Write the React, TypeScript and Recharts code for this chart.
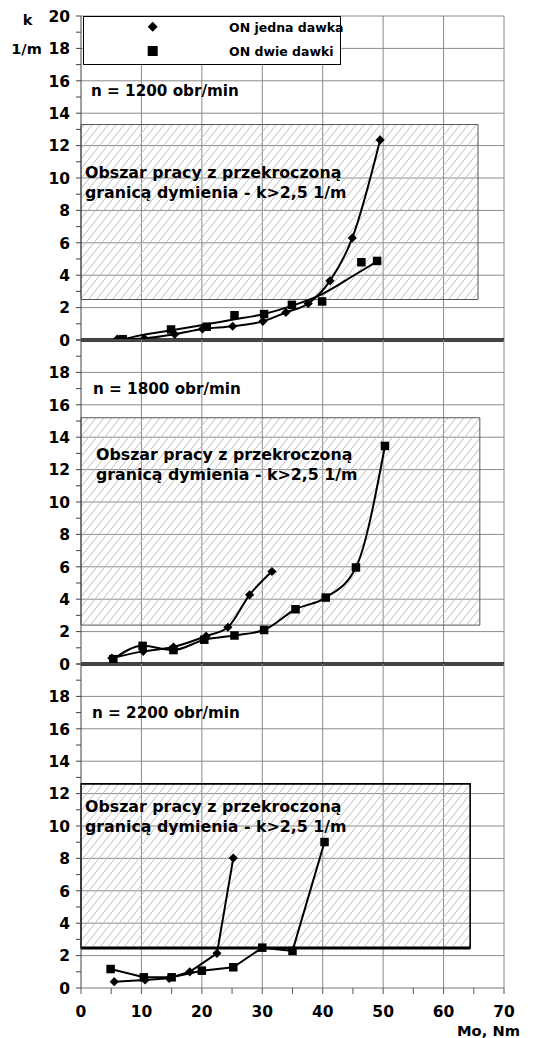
import React from "react";
import { ComposedChart, Line, XAxis, YAxis, ReferenceLine, ReferenceArea, CartesianGrid } from "recharts";

// ---------- data ----------
// n = 1200 obr/min
const p1JednaX = [6.0, 10.5, 15.5, 20.1, 25.1, 30.1, 33.9, 37.6, 41.2, 44.9, 49.5];
const p1JednaY = [0.05, 0.1, 0.35, 0.68, 0.85, 1.15, 1.7, 2.25, 3.65, 6.3, 12.35];
const p1DwieX = [6.9, 14.9, 20.8, 25.4, 30.3, 34.9, 39.9, 46.4, 49.0];
const p1DwieY = [0.05, 0.65, 0.82, 1.53, 1.6, 2.17, 2.38, 4.8, 4.88];
const p1DwieTrendX = [6.5, 10, 15, 20, 25, 30, 35, 40, 45, 49];
const p1DwieTrendY = [0.0, 0.3, 0.6, 0.92, 1.25, 1.58, 2.12, 2.85, 3.95, 4.85];
// n = 1800 obr/min
const p2JednaX = [5.1, 10.3, 15.3, 20.7, 24.3, 27.9, 31.6];
const p2JednaY = [0.37, 0.78, 1.05, 1.72, 2.27, 4.27, 5.71];
const p2DwieX = [5.35, 10.2, 15.3, 20.4, 25.4, 30.3, 35.5, 40.5, 45.5, 50.3];
const p2DwieY = [0.3, 1.12, 0.86, 1.5, 1.76, 2.1, 3.38, 4.1, 5.96, 13.46];
// n = 2200 obr/min
const p3JednaX = [5.5, 10.6, 14.6, 18.0, 22.5, 25.2];
const p3JednaY = [0.39, 0.5, 0.6, 1.0, 2.14, 8.02];
const p3DwieX = [4.9, 10.4, 15.0, 20.0, 25.2, 30.0, 35.0, 40.3];
const p3DwieY = [1.17, 0.66, 0.66, 1.07, 1.28, 2.49, 2.29, 9.01];

// hatched areas [x1, x2, y1, y2]
const area1 = [0, 65.7, 2.5, 13.3];
const area2 = [0, 66, 2.4, 15.2];
const area3 = [0, 64.4, 2.47, 12.6];

// axes
const xMin = 0;
const xMax = 70;
const yMin = 0;
const yMax = 20;
const xTicks = [0, 5, 10, 15, 20, 25, 30, 35, 40, 45, 50, 55, 60, 65, 70];
const xGrid = [10, 20, 30, 40, 50, 60, 70];
const yTicks = [0, 1, 2, 3, 4, 5, 6, 7, 8, 9, 10, 11, 12, 13, 14, 15, 16, 17, 18, 19, 20];
const yGrid = [2, 4, 6, 8, 10, 12, 14, 16, 18, 20];

const seriesNames = ["ON jedna dawka", "ON dwie dawki"];
const panelTitles = ["n = 1200 obr/min", "n = 1800 obr/min", "n = 2200 obr/min"];
const areaText = ["Obszar pracy z przekroczoną", "granicą dymienia - k>2,5 1/m"];
const yTitle = ["k", "1/m"];
const xTitle = "Mo, Nm";

const pts = (xs: number[], ys: number[]) => xs.map((x, i) => ({ x, y: ys[i] }));

const FONT = "'DejaVu Sans', Verdana, sans-serif";
const GRID = "#8a8a8a";

const diamond = (p: any) => {
  const { cx, cy, index } = p;
  if (cx == null || cy == null) return <g key={index} />;
  const r = 4.6;
  return (
    <path key={index} d={`M${cx},${cy - r}L${cx + r},${cy}L${cx},${cy + r}L${cx - r},${cy}Z`} fill="#000" />
  );
};
const square = (p: any) => {
  const { cx, cy, index } = p;
  if (cx == null || cy == null) return <g key={index} />;
  const s = 8.5;
  return <rect key={index} x={cx - s / 2} y={cy - s / 2} width={s} height={s} fill="#000" />;
};

const makeYTick = (maxLabel: number) => (props: any) => {
  const { x, y, payload } = props;
  const v = payload.value;
  if (v % 2 !== 0 || v > maxLabel) return <g />;
  return (
    <text x={x} y={y} dy={5.7} textAnchor="end" fontFamily={FONT} fontWeight="bold" fontSize={15.5} fill="#000">
      {v}
    </text>
  );
};

const XTick = (props: any) => {
  const { x, y, payload } = props;
  const v = payload.value;
  if (v % 10 !== 0) return <g />;
  return (
    <text x={x} y={y} dy={21} textAnchor="middle" fontFamily={FONT} fontWeight="bold" fontSize={15.5} fill="#000">
      {v}
    </text>
  );
};

type PanelProps = {
  id: string;
  top: number;
  height: number;
  margin: { top: number; right: number; bottom: number; left: number };
  showX: boolean;
  maxLabel: number;
  area: number[];
  areaStroke: string;
  thickBottom: boolean;
  zeroLine: boolean;
  curve: "monotone" | "linear";
  jedna: { x: number; y: number }[];
  dwie: { x: number; y: number }[];
  dwieTrend?: { x: number; y: number }[];
};

const Panel = (p: PanelProps) => (
  <div style={{ position: "absolute", left: 0, top: p.top }}>
    <ComposedChart width={535} height={p.height} margin={p.margin}>
      <CartesianGrid horizontalValues={yGrid} verticalValues={xGrid} stroke={GRID} />
      <XAxis
        type="number"
        dataKey="x"
        domain={[xMin, xMax]}
        ticks={xTicks}
        interval={0}
        hide={!p.showX}
        allowDataOverflow
        tickSize={6}
        axisLine={{ stroke: "#777" }}
        tickLine={{ stroke: "#555" }}
        tick={<XTick />}
        height={30}
      />
      <YAxis
        type="number"
        dataKey="y"
        domain={[yMin, yMax]}
        ticks={yTicks}
        interval={0}
        allowDataOverflow
        width={81}
        tickSize={5}
        tickMargin={6}
        axisLine={{ stroke: "#444" }}
        tickLine={{ stroke: "#444" }}
        tick={makeYTick(p.maxLabel)}
      />
      <defs>
        <pattern id={p.id} width={8} height={10} patternUnits="userSpaceOnUse">
          <path d="M-1,11.25 L9,-1.25" stroke="#bdbdbd" strokeWidth={1} />
        </pattern>
      </defs>
      <ReferenceArea
        x1={p.area[0]}
        x2={p.area[1]}
        y1={p.area[2]}
        y2={p.area[3]}
        fill={`url(#${p.id})`}
        fillOpacity={1}
        stroke={p.areaStroke}
        strokeWidth={p.thickBottom ? 1.6 : 1}
      />
      {p.thickBottom && (
        <ReferenceLine
          segment={[
            { x: p.area[0], y: p.area[2] },
            { x: p.area[1], y: p.area[2] },
          ]}
          stroke="#000"
          strokeWidth={3}
        />
      )}
      {p.zeroLine && <ReferenceLine y={0} stroke="#000" strokeWidth={3.5} />}
      {p.dwieTrend ? (
        <>
          <Line
            data={p.dwieTrend}
            dataKey="y"
            type="monotone"
            stroke="#000"
            strokeWidth={2}
            dot={false}
            activeDot={false}
            isAnimationActive={false}
          />
          <Line
            data={p.dwie}
            dataKey="y"
            stroke="none"
            dot={square}
            activeDot={false}
            isAnimationActive={false}
          />
        </>
      ) : (
        <Line
          data={p.dwie}
          dataKey="y"
          type={p.curve}
          stroke="#000"
          strokeWidth={2}
          dot={square}
          activeDot={false}
          isAnimationActive={false}
        />
      )}
      <Line
        data={p.jedna}
        dataKey="y"
        type={p.curve}
        stroke="#000"
        strokeWidth={2}
        dot={diamond}
        activeDot={false}
        isAnimationActive={false}
      />
    </ComposedChart>
  </div>
);

const T = (props: any) => (
  <text fontFamily={FONT} fontWeight="bold" fill="#000" {...props} />
);

export default function App() {
  return (
    <div style={{ position: "absolute", left: 0, top: 0, width: 535, height: 1038, background: "#fff" }}>
      <Panel
        id="hatch1"
        top={0}
        height={352}
        margin={{ top: 16, right: 31, bottom: 12, left: 0 }}
        showX={false}
        maxLabel={20}
        area={area1}
        areaStroke="#555"
        thickBottom={false}
        zeroLine={true}
        curve="monotone"
        jedna={pts(p1JednaX, p1JednaY)}
        dwie={pts(p1DwieX, p1DwieY)}
        dwieTrend={pts(p1DwieTrendX, p1DwieTrendY)}
      />
      <Panel
        id="hatch2"
        top={328}
        height={348}
        margin={{ top: 12, right: 31, bottom: 12, left: 0 }}
        showX={false}
        maxLabel={18}
        area={area2}
        areaStroke="#555"
        thickBottom={false}
        zeroLine={true}
        curve="monotone"
        jedna={pts(p2JednaX, p2JednaY)}
        dwie={pts(p2DwieX, p2DwieY)}
      />
      <Panel
        id="hatch3"
        top={652}
        height={386}
        margin={{ top: 12, right: 31, bottom: 20, left: 0 }}
        showX={true}
        maxLabel={18}
        area={area3}
        areaStroke="#000"
        thickBottom={true}
        zeroLine={false}
        curve="linear"
        jedna={pts(p3JednaX, p3JednaY)}
        dwie={pts(p3DwieX, p3DwieY)}
      />
      <svg
        width={535}
        height={1038}
        style={{ position: "absolute", left: 0, top: 0, pointerEvents: "none" }}
      >
        {/* legend */}
        <rect x={83.5} y={16.5} width={257} height={48} fill="#fff" stroke="#000" strokeWidth={1} />
        <path d="M152.7,21.7L157.7,26.7L152.7,31.7L147.7,26.7Z" fill="#000" />
        <rect x={147.7} y={46} width={10} height={10} fill="#000" />
        <T x={229} y={31.5} fontSize={12.5}>{seriesNames[0]}</T>
        <T x={229} y={56} fontSize={12.5}>{seriesNames[1]}</T>
        {/* axis titles */}
        <T x={27.5} y={25} fontSize={14.5} textAnchor="middle">{yTitle[0]}</T>
        <T x={26.5} y={54} fontSize={14.5} textAnchor="middle">{yTitle[1]}</T>
        <T x={520} y={1035.5} fontSize={14.7} textAnchor="end">{xTitle}</T>
        {/* panel titles */}
        <T x={91} y={96.3} fontSize={15.2}>{panelTitles[0]}</T>
        <T x={93} y={394} fontSize={15.2}>{panelTitles[1]}</T>
        <T x={92} y={718} fontSize={15.2}>{panelTitles[2]}</T>
        {/* area texts */}
        <T x={85} y={177.5} fontSize={15.8}>{areaText[0]}</T>
        <T x={85} y={197.5} fontSize={15.8}>{areaText[1]}</T>
        <T x={96} y={460} fontSize={15.8}>{areaText[0]}</T>
        <T x={96} y={479.5} fontSize={15.8}>{areaText[1]}</T>
        <T x={85} y={811.5} fontSize={15.8}>{areaText[0]}</T>
        <T x={85} y={831.5} fontSize={15.8}>{areaText[1]}</T>
      </svg>
    </div>
  );
}
